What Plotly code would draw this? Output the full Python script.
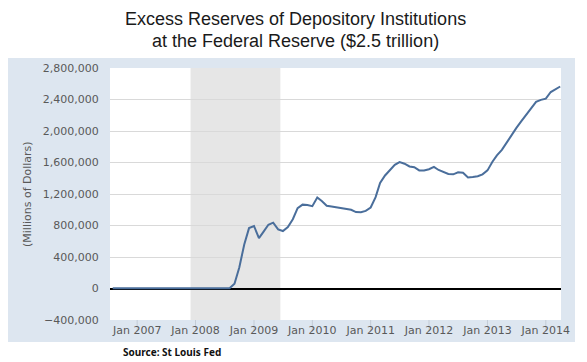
import plotly.graph_objects as go

# ---- data (millions of dollars), monthly ----
months = [
    "2006-08", "2006-09", "2006-10", "2006-11", "2006-12",
    "2007-01", "2007-02", "2007-03", "2007-04", "2007-05", "2007-06",
    "2007-07", "2007-08", "2007-09", "2007-10", "2007-11", "2007-12",
    "2008-01", "2008-02", "2008-03", "2008-04", "2008-05", "2008-06",
    "2008-07", "2008-08", "2008-09", "2008-10", "2008-11", "2008-12",
    "2009-01", "2009-02", "2009-03", "2009-04", "2009-05", "2009-06",
    "2009-07", "2009-08", "2009-09", "2009-10", "2009-11", "2009-12",
    "2010-01", "2010-02", "2010-03", "2010-04", "2010-05", "2010-06",
    "2010-07", "2010-08", "2010-09", "2010-10", "2010-11", "2010-12",
    "2011-01", "2011-02", "2011-03", "2011-04", "2011-05", "2011-06",
    "2011-07", "2011-08", "2011-09", "2011-10", "2011-11", "2011-12",
    "2012-01", "2012-02", "2012-03", "2012-04", "2012-05", "2012-06",
    "2012-07", "2012-08", "2012-09", "2012-10", "2012-11", "2012-12",
    "2013-01", "2013-02", "2013-03", "2013-04", "2013-05", "2013-06",
    "2013-07", "2013-08", "2013-09", "2013-10", "2013-11", "2013-12",
    "2014-01", "2014-02", "2014-03", "2014-04",
]
excess_reserves = [
    1800, 1700, 1900, 1600, 1800,
    1700, 1600, 1800, 1600, 1700, 1800,
    1700, 1900, 1800, 1600, 1900, 2000,
    1700, 1800, 1900, 1800, 1900, 2000,
    1900, 2000, 60000, 267000, 559000, 767000,
    794000, 640000, 720000, 810000, 836000, 750000,
    730000, 780000, 880000, 1020000, 1065000, 1060000,
    1045000, 1155000, 1110000, 1050000, 1040000, 1030000,
    1020000, 1005000, 1000000, 970000, 968000, 985000,
    1028000, 1160000, 1340000, 1435000, 1500000, 1570000,
    1605000, 1585000, 1550000, 1540000, 1500000, 1500000,
    1515000, 1545000, 1505000, 1480000, 1455000, 1450000,
    1475000, 1470000, 1410000, 1415000, 1425000, 1450000,
    1500000, 1610000, 1690000, 1760000, 1855000, 1950000,
    2040000, 2125000, 2210000, 2290000, 2370000, 2395000,
    2410000, 2495000, 2530000, 2565000,
]
recession = ["2007-12-01", "2009-06-15"]
x_tick_dates = ["2007-01-01", "2008-01-01", "2009-01-01", "2010-01-01",
                "2011-01-01", "2012-01-01", "2013-01-01", "2014-01-01"]
x_tick_labels = ["Jan 2007", "Jan 2008", "Jan 2009", "Jan 2010",
                 "Jan 2011", "Jan 2012", "Jan 2013", "Jan 2014"]
y_range = [-400000, 2800000]
title_lines = ["Excess Reserves of Depository Institutions",
               "at the Federal Reserve ($2.5 trillion)"]

# The page body has an 8px margin, so the figure sits at (8, 8) in the window.
OFF = 8
PAGE_W, PAGE_H = 587, 362
W, H = PAGE_W - OFF, PAGE_H - OFF
# plot area in page pixels
PL, PR, PT, PB = 110, 561, 68, 320
L, R, T, B = PL - OFF, W - (PR - OFF), PT - OFF, H - (PB - OFF)
pw, ph = PR - PL, PB - PT


def px_x(p):  # page pixel -> paper
    return (p - PL) / pw


def px_y(p):
    return (PB - p) / ph


fig = go.Figure()
fig.add_trace(go.Scatter(
    x=[m + "-01" for m in months], y=excess_reserves, mode="lines",
    line=dict(color="#4a6e9b", width=2), hoverinfo="x+y", showlegend=False,
))

shapes = [
    # light blue chart panel
    dict(type="rect", xref="paper", yref="paper", layer="below",
         x0=px_x(OFF), x1=px_x(575), y0=px_y(342), y1=px_y(58),
         fillcolor="#dde6f0", line=dict(width=0)),
    # white plot area
    dict(type="rect", xref="paper", yref="paper", layer="below",
         x0=0, x1=1, y0=0, y1=1, fillcolor="white", line=dict(width=0)),
    # recession shading
    dict(type="rect", xref="x", yref="paper", layer="below",
         x0=recession[0], x1=recession[1], y0=0, y1=1,
         fillcolor="#e6e6e6", line=dict(width=0)),
]
for d in x_tick_dates:
    shapes.append(dict(type="line", xref="x", yref="paper", layer="below",
                       x0=d, x1=d, y0=0, y1=-12 / ph,
                       line=dict(color="#c4ccd6", width=1)))

title_font = dict(family="Liberation Sans", size=18, color="#1a1a1a")
annotations = [
    dict(text=title_lines[0], xref="paper", yref="paper", x=px_x(295), y=px_y(8),
         xanchor="center", yanchor="top", showarrow=False, borderpad=0,
         font=title_font),
    dict(text=title_lines[1], xref="paper", yref="paper", x=px_x(295), y=px_y(41),
         xanchor="center", yanchor="middle", showarrow=False, borderpad=0,
         font=title_font),
    dict(text="(Millions of Dollars)", xref="paper", yref="paper", x=px_x(27), y=0.5,
         xanchor="center", yanchor="middle", textangle=-90, showarrow=False,
         font=dict(family="DejaVu Sans", size=11, color="#595959")),
    dict(text="<b>Source: St Louis Fed</b>", xref="paper", yref="paper", x=px_x(121),
         y=px_y(352), xanchor="left", yanchor="middle", showarrow=False,
         font=dict(family="Noto Sans", size=10, color="#111111")),
]

fig.update_layout(
    width=W, height=H,
    margin=dict(l=L, r=R, t=T, b=B, autoexpand=False),
    paper_bgcolor="white", plot_bgcolor="rgba(0,0,0,0)",
    shapes=shapes, annotations=annotations, showlegend=False,
    xaxis=dict(
        type="date", range=["2006-07-15", "2014-04-06"],
        tickvals=x_tick_dates, ticktext=x_tick_labels,
        showgrid=False, zeroline=False, showline=False, ticks="",
        ticklabelstandoff=2,
        tickfont=dict(family="DejaVu Sans", size=11, color="#595959"),
    ),
    yaxis=dict(
        range=y_range, dtick=400000, tick0=0, tickformat=",",
        showgrid=True, gridcolor="#d9d9d9", gridwidth=1,
        zeroline=True, zerolinecolor="#000000", zerolinewidth=2,
        showline=False, ticks="outside", ticklen=8, tickcolor="rgba(0,0,0,0)",
        tickfont=dict(family="DejaVu Sans", size=11, color="#595959"),
    ),
)

fig.write_html("out.html")
